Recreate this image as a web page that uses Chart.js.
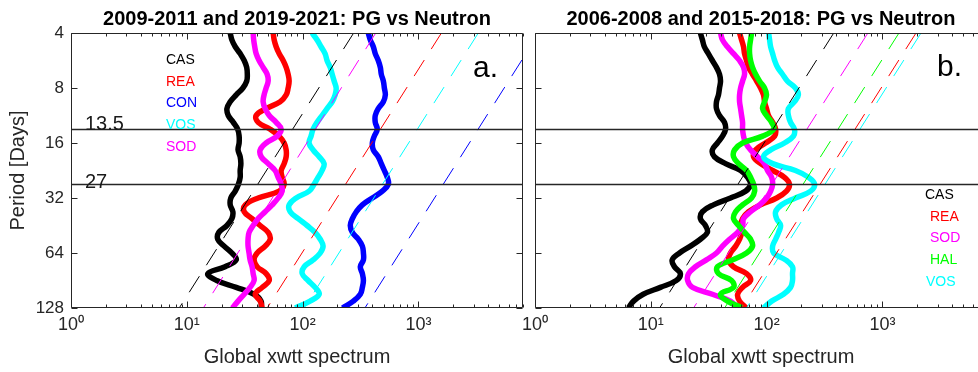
<!DOCTYPE html>
<html>
<head>
<meta charset="utf-8">
<title>PG vs Neutron</title>
<script src="https://cdn.jsdelivr.net/npm/chart.js@4.4.1/dist/chart.umd.min.js"></script>
<style>
    html, body { margin: 0; padding: 0; background: #fff; overflow: hidden; }
    #wrap { position: relative; width: 978px; height: 372px; overflow: hidden; }
    canvas { position: absolute; top: 0; }
    #chartA { left: 0; }
    #chartB { left: 490px; }
</style>
</head>
<body>
<div id="wrap">
    <canvas id="chartA" width="530" height="372"></canvas>
    <canvas id="chartB" width="510" height="372"></canvas>
</div>
<script>
(function () {
    "use strict";

    // Periods [days] the spectra are read at (1/8 octave steps)
    const periods = [4, 4.362, 4.757, 5.187, 5.657, 6.169, 6.727, 7.336, 8, 8.724,
        9.514, 10.375, 11.314, 12.338, 13.454, 14.672, 16, 17.448, 19.027, 20.749,
        22.627, 24.675, 26.909, 29.344, 32, 34.896, 38.055, 41.499, 45.255, 49.351,
        53.817, 58.688, 64, 69.792, 76.109, 82.998, 90.51, 98.7, 107.63, 117.38, 128];

    // Panel a: 2009-2011 and 2019-2021
    const casA = [23.7, 24.5, 26.2, 28.9, 31.3, 32.9, 33.3, 32.9, 30.5, 26.7,
        23.7, 22.2, 22.8, 25.2, 27.5, 28.3, 28.3, 27.7, 28.9, 29.3,
        28.9, 28.9, 27.9, 26.2, 24.0, 23.7, 25.0, 24.5, 22.2, 18.9,
        18.5, 21.0, 24.5, 26.7, 21.4, 15.2, 18.1, 26.7, 38.1, 43.8, 43.8];
    const reaA = [55.7, 56.8, 59.1, 62.7, 67.9, 72.1, 75.0, 76.5, 75.0, 72.1,
        64.0, 48.4, 39.7, 41.3, 52.5, 62.7, 69.3, 72.1, 72.1, 69.3,
        65.3, 66.6, 69.3, 62.7, 41.3, 32.0, 31.3, 36.6, 43.0, 50.4,
        52.5, 47.5, 40.5, 38.1, 40.5, 48.4, 51.5, 44.8, 39.0, 43.0, 44.8];
    const conA = [369, 384, 408, 424, 450, 469, 478, 498, 508, 518,
        498, 450, 424, 424, 441, 416, 400, 408, 450, 478,
        508, 539, 550, 488, 400, 328, 291, 269, 258, 269,
        303, 328, 335, 335, 315, 328, 335, 328, 315, 274, 221];
    const vosA = [120.7, 133.3, 144.3, 156.3, 162.6, 173, 180, 187.3, 194.9, 191,
        180, 162.6, 147.2, 133.3, 123.1, 118.3, 113.7, 123.1, 139, 153.3,
        147.2, 136, 125.6, 113.7, 88, 76.5, 78.1, 91.6, 109.3, 128.1,
        142, 150.3, 142, 123.1, 103.2, 99.2, 111.5, 128.1, 139, 116, 86.3];
    const sodA = [37.4, 37.8, 38.6, 39.7, 42.1, 45.6, 49.4, 50.4, 48.4, 46.5,
        45.6, 47.5, 51.5, 59.1, 65.3, 60.3, 48.4, 43.0, 43.9, 50.4,
        57.9, 61.5, 65.3, 66.6, 61.5, 54.6, 47.5, 41.3, 37.4, 34.5,
        33.8, 33.8, 34.5, 35.2, 36.6, 37.4, 38.1, 35.2, 31.3, 27.7, 24.7];

    // Panel b: 2006-2008 and 2015-2018
    const casB = [26.8, 27.9, 29.0, 31.4, 34.0, 36.9, 39.2, 40.0, 39.2, 38.4,
        36.9, 36.9, 39.2, 43.3, 44.2, 41.6, 37.6, 34.0, 35.4, 44.2,
        59.6, 68.5, 72.7, 65.9, 48.8, 34.7, 27.9, 26.8, 29.6, 30.8,
        26.8, 22.0, 17.7, 15.3, 16.0, 18.0, 16.6, 12.1, 8.6, 7.1, 6.4];
    const reaB = [58.4, 60.8, 63.2, 64.5, 67.1, 69.9, 75.6, 82.0, 88.7, 94.1,
        96.0, 99.8, 103.9, 112.7, 119.6, 117.3, 97.8, 80.4, 77.2, 88.7,
        112.7, 142.6, 157.5, 148.4, 122.0, 88.7, 69.9, 62.0, 59.6, 60.8,
        58.4, 54.0, 48.8, 46.9, 51.8, 67.1, 72.7, 62.0, 56.2, 58.4, 67.1];
    const sodB = [40.0, 41.6, 45.9, 51.8, 58.4, 63.2, 64.5, 62.0, 59.6, 58.4,
        58.4, 59.6, 60.8, 62.0, 62.0, 63.2, 65.9, 72.7, 83.4, 95.9,
        101.8, 110.5, 112.7, 108.3, 99.8, 87.0, 72.7, 63.2, 62.0, 56.2,
        47.9, 41.6, 36.9, 30.2, 24.3, 21.2, 20.8, 22.9, 34.0, 48.8, 56.2];
    const halB = [74.2, 72.7, 71.3, 71.3, 72.7, 75.6, 80.4, 87.0, 95.9, 99.8,
        95.9, 92.3, 99.8, 110.5, 115.0, 92.3, 62.0, 52.9, 51.8, 57.3,
        67.1, 72.7, 77.2, 78.8, 74.2, 62.0, 54.0, 51.8, 57.3, 64.5,
        72.7, 75.6, 67.1, 50.8, 37.6, 38.4, 49.8, 51.8, 40.0, 45.9, 62.0];
    const vosB = [104.1, 106.1, 108.3, 112.7, 117.3, 124.4, 137.1, 151.2, 177.3, 188.0,
        174.0, 154.2, 154.2, 161, 174.0, 170.5, 142.6, 108.3, 94.1, 112.7,
        177.3, 230.6, 259.7, 240, 177.3, 134.5, 119.6, 122.0, 132, 126.9,
        119.6, 112.7, 115.0, 145.5, 167.3, 167.3, 167.3, 161, 139.8, 110.5, 94.1];

    // Significance levels, value at 4 and at 128 days
    const sigPeriods = [4, 128];
    const sigCasA = [276, 8.6];
    const sigReaA = [1580, 49.4];
    const sigConA = [11000, 345];
    const sigVosA = [3290, 103];
    const sigSodA = [428, 13.9];
    const sigCasB = [380, 11.9];
    const sigReaB = [1950, 61];
    const sigSodB = [749, 23.4];
    const sigHalB = [1390, 43.4];
    const sigVosB = [2155, 67];

    // Marked periods, axis ticks
    const markPeriods = [13.5, 27];
    const xTicks = [1, 10, 100, 1000];
    const xTickLabels = ['10\u2070', '10\u00b9', '10\u00b2', '10\u00b3'];
    const yTicks = [4, 8, 16, 32, 64, 128];
    const xMin = 1, xMax = 8000;

    const FONT = "'Liberation Sans', Arial, Helvetica, sans-serif";
    const AXIS = '#262626';
    Chart.defaults.font.family = FONT;
    Chart.defaults.color = AXIS;

    function pts(ps, vals) {
        return vals.map(function (v, i) { return { x: v, y: ps[i] }; });
    }

    function curve(vals, color, order) {
        return { data: pts(periods, vals), borderColor: color, borderWidth: 5.5,
            pointRadius: 0, tension: 0.4, showLine: true, clip: 0, order: order };
    }

    function sig(vals, color) {
        return { data: pts(sigPeriods, vals), borderColor: color, borderWidth: 1,
            borderDash: [19, 13], pointRadius: 0, showLine: true, clip: 0, order: 2 };
    }

    function mark(p) {
        return { data: [{ x: xMin, y: p }, { x: xMax, y: p }], borderColor: AXIS,
            borderWidth: 1.3, pointRadius: 0, showLine: true, clip: 0, order: 1 };
    }

    // Box, inward ticks, legend words, panel letter and period labels
    const decor = {
        id: 'decor',
        afterDatasetsDraw(chart, args, o) {
            const { ctx, chartArea: a, scales: { x, y } } = chart;
            const L = Math.round(a.left) + 0.5, R = Math.round(a.right) - 0.5;
            const T = Math.round(a.top) + 0.5, B = Math.round(a.bottom) - 0.5;
            ctx.save();
            ctx.strokeStyle = AXIS;
            ctx.lineWidth = 1;
            ctx.beginPath();
            ctx.rect(L, T, R - L, B - T);
            xTicks.forEach(function (d) {
                for (let m = 1; m <= 9; m++) {
                    const v = d * m;
                    if (v > xMax) break;
                    const px = Math.round(x.getPixelForValue(v)) + 0.5;
                    const len = m === 1 ? 6 : 3;
                    ctx.moveTo(px, B); ctx.lineTo(px, B - len);
                    ctx.moveTo(px, T); ctx.lineTo(px, T + len);
                }
            });
            yTicks.forEach(function (v) {
                const py = Math.round(y.getPixelForValue(v)) + 0.5;
                ctx.moveTo(L, py); ctx.lineTo(L + 6, py);
                ctx.moveTo(R, py); ctx.lineTo(R - 6, py);
            });
            ctx.stroke();

            ctx.font = '14px ' + FONT;
            ctx.textAlign = 'left';
            ctx.textBaseline = 'middle';
            o.names.forEach(function (t, i) {
                ctx.fillStyle = o.colors[i];
                ctx.fillText(t, a.left + o.nameX[i], o.nameY + i * 21.8);
            });

            ctx.fillStyle = '#000';
            ctx.textBaseline = 'alphabetic';
            ctx.font = '30px ' + FONT;
            ctx.fillText(o.letter, a.left + 402, o.letterY);

            if (o.markText) {
                ctx.font = '20px ' + FONT;
                ctx.fillStyle = '#1a1a1a';
                markPeriods.forEach(function (p, i) {
                    ctx.fillText(String(p), a.left + 14, y.getPixelForValue(p) + (i === 0 ? 0 : 3));
                });
            }
            ctx.restore();
        }
    };

    function scales(showY, yWidth) {
        return {
            x: {
                type: 'logarithmic', min: xMin, max: xMax,
                grid: { display: false, drawTicks: false },
                border: { display: false },
                afterBuildTicks: function (s) { s.ticks = xTicks.map(function (v) { return { value: v }; }); },
                afterFit: function (s) { s.height = 64; },
                ticks: { padding: 6, font: { size: 18 }, color: AXIS, autoSkip: false, maxRotation: 0,
                    callback: function (v, i) { return xTickLabels[i]; } },
                title: { display: true, text: 'Global xwtt spectrum', font: { size: 20 }, color: AXIS,
                    padding: { top: 0, bottom: 3 } }
            },
            y: {
                type: 'logarithmic', min: 4, max: 128, reverse: true,
                grid: { display: false, drawTicks: false },
                border: { display: false },
                afterBuildTicks: function (s) { s.ticks = yTicks.map(function (v) { return { value: v }; }); },
                afterFit: function (s) { s.width = yWidth; },
                ticks: { display: showY, padding: 7, font: { size: 17 }, color: AXIS, autoSkip: false,
                    callback: function (v) { return String(v); } },
                title: { display: showY, text: 'Period [Days]', font: { size: 20 }, color: AXIS,
                    padding: { top: 6, bottom: 0 } }
            }
        };
    }

    function options(title, showY, yWidth, padRight, decorOpts) {
        return {
            responsive: false,
            animation: false,
            events: [],
            layout: { padding: { left: 0, right: padRight, top: 0, bottom: 0 } },
            scales: scales(showY, yWidth),
            plugins: {
                legend: { display: false },
                tooltip: { enabled: false },
                title: { display: true, text: title, fullSize: false, color: '#000',
                    font: { size: 20, weight: 'bold' }, padding: { top: 7, bottom: 2 } },
                decor: decorOpts
            }
        };
    }

    // Panel a
    new Chart(document.getElementById('chartA').getContext('2d'), {
        type: 'scatter',
        data: {
            datasets: [
                mark(markPeriods[0]), mark(markPeriods[1]),
                sig(sigCasA, '#000000'), sig(sigReaA, '#ff0000'), sig(sigConA, '#0000ff'),
                sig(sigVosA, '#00ffff'), sig(sigSodA, '#ff00ff'),
                curve(casA, '#000000', 10),
                curve(reaA, '#ff0000', 9),
                curve(conA, '#0000ff', 8),
                curve(vosA, '#00ffff', 7),
                curve(sodA, '#ff00ff', 6)
            ]
        },
        options: options('2009-2011 and 2019-2021: PG vs Neutron', true, 71, 7, {
            names: ['CAS', 'REA', 'CON', 'VOS', 'SOD'],
            colors: ['#000000', '#ff0000', '#0000ff', '#00ffff', '#ff00ff'],
            nameX: [95, 95, 95, 95, 95],
            nameY: 60,
            letter: 'a.',
            letterY: 77,
            markText: true
        }),
        plugins: [decor]
    });

    // Panel b
    new Chart(document.getElementById('chartB').getContext('2d'), {
        type: 'scatter',
        data: {
            datasets: [
                mark(markPeriods[0]), mark(markPeriods[1]),
                sig(sigCasB, '#000000'), sig(sigReaB, '#ff0000'), sig(sigSodB, '#ff00ff'),
                sig(sigHalB, '#00ff00'), sig(sigVosB, '#00ffff'),
                curve(casB, '#000000', 10),
                curve(reaB, '#ff0000', 9),
                curve(sodB, '#ff00ff', 8),
                curve(halB, '#00ff00', 7),
                curve(vosB, '#00ffff', 6)
            ]
        },
        options: options('2006-2008 and 2015-2018: PG vs Neutron', false, 45, 13, {
            names: ['CAS', 'REA', 'SOD', 'HAL', 'VOS'],
            colors: ['#000000', '#ff0000', '#ff00ff', '#00ff00', '#00ffff'],
            nameX: [390, 395, 395, 395, 391],
            nameY: 195,
            letter: 'b.',
            letterY: 76,
            markText: false
        }),
        plugins: [decor]
    });
})();
</script>
</body>
</html>
